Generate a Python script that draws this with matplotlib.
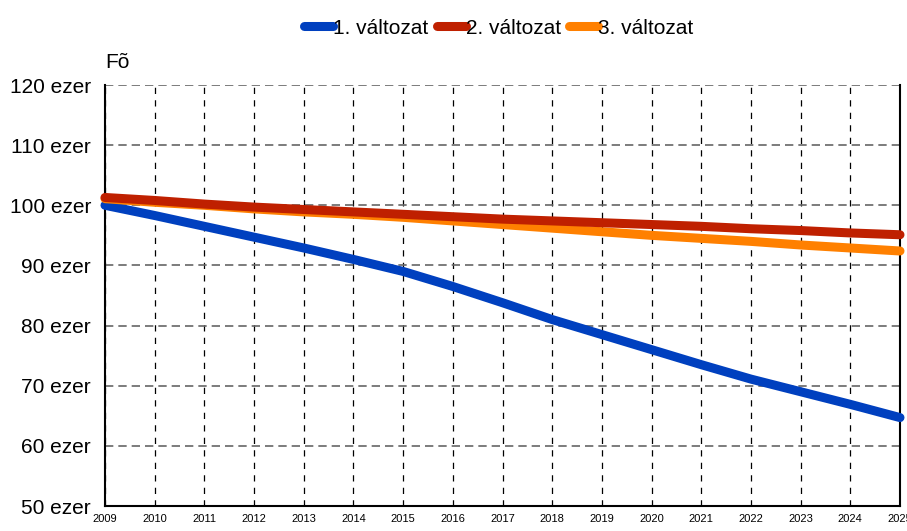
import matplotlib.pyplot as plt
import numpy as np

plt.rcParams["font.family"] = ["Liberation Sans", "DejaVu Sans"]

years = list(range(2009, 2026))
valtozat_1 = [100.0, 98.3, 96.5, 94.7, 92.9, 91.0, 89.0, 86.5, 83.8, 81.0, 78.5,
              76.0, 73.5, 71.1, 69.0, 66.9, 64.7]
valtozat_2 = [101.3, 100.8, 100.2, 99.7, 99.3, 98.9, 98.5, 98.1, 97.7, 97.4, 97.1,
              96.8, 96.5, 96.1, 95.8, 95.4, 95.1]
valtozat_3 = [101.1, 100.5, 100.0, 99.4, 98.9, 98.5, 98.0, 97.4, 96.8, 96.2, 95.6,
              95.0, 94.5, 94.0, 93.4, 92.9, 92.4]
series_names = ["1. változat", "2. változat", "3. változat"]
colors = ["#0040BF", "#BF2000", "#FF8000"]
yticks = [50, 60, 70, 80, 90, 100, 110, 120]

fig = plt.figure(figsize=(9.07, 5.31), dpi=100)
ax = fig.add_axes([105 / 907, 25 / 531, 795 / 907, 421 / 531])

# red drawn on top of orange and blue, as in the original
z_order = [3, 5, 4]
for vals, name, col, z in zip([valtozat_1, valtozat_2, valtozat_3], series_names, colors, z_order):
    ax.plot(years, vals, color=col, linewidth=6.5, solid_capstyle="round",
            label=name, clip_on=False, zorder=z)

ax.set_xlim(2009, 2025)
ax.set_ylim(50, 120)
ax.set_xticks(years)
ax.set_xticklabels([str(y) for y in years], fontsize=8)
ax.set_yticks(yticks)
ax.set_yticklabels([f"{v} ezer" for v in yticks], fontsize=15)
ax.tick_params(axis="both", length=0, pad=6)
ax.tick_params(axis="y", pad=10)

ax.xaxis.grid(True, color="black", linestyle=(0, (5, 5)), linewidth=0.9)
ax.yaxis.grid(True, color="#666666", linestyle=(0, (5, 3)), linewidth=1.2)
ax.set_axisbelow(True)

ax.spines["top"].set_visible(False)
for side in ["left", "bottom", "right"]:
    ax.spines[side].set_linewidth(1.5)
    ax.spines[side].set_color("black")

ax.text(0.0, 1.03, "Fõ", transform=ax.transAxes, fontsize=15, ha="left", va="bottom")

fig.legend(loc="upper center", bbox_to_anchor=(0.55, 1.0), ncol=3, frameon=False,
           fontsize=15, handlelength=1.4, handletextpad=0.0, columnspacing=0.4)

fig.savefig("out.png", dpi=100)
